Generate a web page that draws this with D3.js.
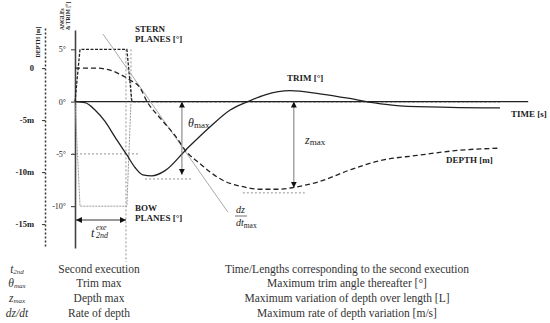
<!DOCTYPE html>
<html>
<head>
<meta charset="utf-8">
<script src="https://cdn.jsdelivr.net/npm/d3@7"></script>
<style>
  body { margin: 0; background: #fff; }
  text { font-family: "Liberation Serif", "DejaVu Serif", serif; fill: #222; }
  .lbl { font-weight: bold; font-size: 9px; }
  .tick text { font-size: 8px; fill: #222; }
  .tbl { font-size: 11.5px; fill: #333; }
</style>
</head>
<body>
<div id="chart"></div>
<script>
// Values: time in % of the run, trim / planes in degrees, depth in metres
const trimCurve = [[0,0],[2.2,-0.1],[4.4,-0.8],[6.6,-1.9],[8.8,-3.4],[11.4,-5.1],[13.2,-6.3],[14.9,-7.0],
  [16.9,-7.1],[19.8,-6.6],[24.4,-4.6],[29.7,-2.4],[34.1,-0.8],[38.5,0.1],[41.8,0.65],[47.3,1.05],
  [53.8,0.75],[60.4,0.3],[65.5,-0.1],[71.4,-0.4],[82.4,-0.55],[93.4,-0.6]];
const depthCurve = [[0,0],[4.4,0],[7.7,-0.2],[9.9,-0.6],[12.1,-1.15],[14.3,-1.9],[15.8,-3.2],[18.7,-4.8],
  [22.0,-6.5],[24.6,-8.1],[27.5,-9.2],[29.7,-10.0],[33.0,-10.9],[36.3,-11.35],[40.7,-11.65],[45.1,-11.65],
  [48.4,-11.45],[53.8,-10.9],[60.4,-9.8],[67.0,-8.9],[75.2,-8.4],[84.6,-7.9],[93.4,-7.7]];
const sternPlanes = [[0,0],[1.1,5],[11.4,5],[12.5,0],[93.4,0]];
const bowPlanes = [[0,0],[1.1,-10],[11.4,-10],[12.3,0]];
const rateLine = [[6.15,3.27],[33.6,-13.85]];   // tangent dz/dt, depth units

const angleTicks = [5, 0, -5, -10];
const depthTicks = [0, -5, -10, -15];
const depthTickLabels = ["0", "-5m", "-10m", "-15m"];

const tExe = 11.2;        // end of second execution
const tTrimMax = 23.5, trimMax = -7.0;
const tDepthMax = 48.1, depthMax = -11.5;

const legendSymbols = [["t", "2nd"], ["θ", "max"], ["z", "max"], ["dz/dt", ""]];
const legendNames = ["Second execution", "Trim max", "Depth max", "Rate of depth"];
const legendNotes = ["Time/Lengths corresponding to the second execution",
  "Maximum trim angle thereafter [°]",
  "Maximum variation of depth over length [L]",
  "Maximum rate of depth variation [m/s]"];

const width = 550, height = 323;

const svg = d3.select("#chart").append("svg")
  .attr("width", width).attr("height", height);

const x = d3.scaleLinear().domain([0, 100]).range([75, 530]);
const yA = d3.scaleLinear().domain([6.85, -14]).range([30, 248]);
const yD = d3.scaleLinear().domain([3.85, -17.3]).range([28, 248]);

// arrow head
svg.append("defs").append("marker")
  .attr("id", "arr")
  .attr("viewBox", "0 0 10 10")
  .attr("refX", 10).attr("refY", 5)
  .attr("markerWidth", 6).attr("markerHeight", 6)
  .attr("orient", "auto-start-reverse")
  .append("path").attr("d", "M0,0L10,5L0,10z").attr("fill", "#111");

// depth axis (dashed)
const depthAxis = svg.append("g")
  .attr("transform", "translate(45,0)")
  .call(d3.axisLeft(yD).tickValues(depthTicks).tickSize(3).tickSizeOuter(0).tickPadding(8)
    .tickFormat((d, i) => depthTickLabels[i]));
depthAxis.select(".domain").attr("stroke", "#333").attr("stroke-width", 1.5).attr("stroke-dasharray", "2,2");
depthAxis.selectAll(".tick line").attr("stroke", "#333");
depthAxis.selectAll(".tick text").style("font-weight", "bold").style("font-size", "8.5px");

// angle axis
const angleAxis = svg.append("g")
  .attr("transform", "translate(75,0)")
  .call(d3.axisLeft(yA).tickValues(angleTicks).tickSize(4).tickSizeOuter(0).tickPadding(5)
    .tickFormat(d => d + "°"));
angleAxis.select(".domain").attr("stroke", "#444").attr("stroke-width", 1.6);
angleAxis.selectAll(".tick line").attr("stroke", "#333");

// axis titles
svg.append("text").attr("class", "lbl")
  .attr("transform", "translate(40,42) rotate(-90)")
  .attr("text-anchor", "middle").style("font-size", "6px")
  .text("DEPTH [m]");
svg.append("text").attr("class", "lbl")
  .attr("transform", "translate(64,30) rotate(-90)")
  .style("font-size", "5.5px").text("ANGLEs");
svg.append("text").attr("class", "lbl")
  .attr("transform", "translate(70,30) rotate(-90)")
  .style("font-size", "5.5px").text("& TRIM [°]");

// time axis
svg.append("line")
  .attr("x1", x(0)).attr("x2", x(99.6))
  .attr("y1", yA(0)).attr("y2", yA(0))
  .attr("stroke", "#222").attr("stroke-width", 1.2);

// guide lines
const guide = (x1, x2, y1, y2) => svg.append("line")
  .attr("x1", x1).attr("x2", x2).attr("y1", y1).attr("y2", y2)
  .attr("stroke", "#888").attr("stroke-width", 0.9).attr("stroke-dasharray", "2,2");
guide(x(tExe), x(tExe), yA(5), 262);
guide(x(12.3), x(12.3), yA(5), yA(0));
guide(x(0) - 3, x(14.3), yA(-5), yA(-5));
guide(x(15.4), x(25.7), yA(-7.4), yA(-7.4));
guide(x(36.9), x(50.5), yD(-12.0), yD(-12.0));

// bow planes
svg.append("path").datum(bowPlanes)
  .attr("fill", "none").attr("stroke", "#999").attr("stroke-width", 1)
  .attr("stroke-dasharray", "2,1")
  .attr("d", d3.line().x(d => x(d[0])).y(d => yA(d[1])));

// stern planes
svg.append("path").datum(sternPlanes)
  .attr("fill", "none").attr("stroke", "#222").attr("stroke-width", 1.3)
  .attr("stroke-dasharray", "3,1.5")
  .attr("d", d3.line().x(d => x(d[0])).y(d => yA(d[1])));

// tangent of depth rate
svg.append("path").datum(rateLine)
  .attr("fill", "none").attr("stroke", "#aaa").attr("stroke-width", 1)
  .attr("d", d3.line().x(d => x(d[0])).y(d => yD(d[1])));

// depth
svg.append("path").datum(depthCurve)
  .attr("fill", "none").attr("stroke", "#222").attr("stroke-width", 1.3)
  .attr("stroke-dasharray", "5,3")
  .attr("d", d3.line().curve(d3.curveMonotoneX).x(d => x(d[0])).y(d => yD(d[1])));

// trim
svg.append("path").datum(trimCurve)
  .attr("fill", "none").attr("stroke", "#222").attr("stroke-width", 1.3)
  .attr("d", d3.line().curve(d3.curveMonotoneX).x(d => x(d[0])).y(d => yA(d[1])));

// arrows
const arrow = (x1, y1, x2, y2, col) => svg.append("line")
  .attr("x1", x1).attr("y1", y1).attr("x2", x2).attr("y2", y2)
  .attr("stroke", col).attr("stroke-width", 1)
  .attr("marker-start", "url(#arr)").attr("marker-end", "url(#arr)");
arrow(x(tTrimMax), yA(0), x(tTrimMax), yA(trimMax), "#777");
arrow(x(tDepthMax), yA(0), x(tDepthMax), yD(depthMax), "#777");
arrow(x(0.2), 220, x(tExe), 220, "#333");

// curve labels
const lbl = (tx, ty, s) => svg.append("text").attr("class", "lbl").attr("x", tx).attr("y", ty).text(s);
lbl(135, 32, "STERN");
lbl(135, 42, "PLANES [°]");
lbl(135, 211, "BOW");
lbl(135, 221, "PLANES [°]");
lbl(287, 81, "TRIM [°]");
lbl(511, 117, "TIME [s]");
lbl(446, 163, "DEPTH [m]");

// math labels
const theta = svg.append("text").attr("x", 188).attr("y", 127);
theta.append("tspan").style("font-style", "italic").style("font-size", "12px").text("θ");
theta.append("tspan").style("font-size", "9px").attr("dy", 1).text("max");

const zl = svg.append("text").attr("x", 305).attr("y", 144);
zl.append("tspan").style("font-style", "italic").style("font-size", "12px").text("z");
zl.append("tspan").style("font-size", "9px").attr("dy", 1).text("max");

svg.append("text").attr("x", 236).attr("y", 213)
  .style("font-style", "italic").style("font-size", "10px").text("dz");
svg.append("line").attr("x1", 235).attr("x2", 247).attr("y1", 216).attr("y2", 216)
  .attr("stroke", "#333").attr("stroke-width", 0.7);
const dt = svg.append("text").attr("x", 236).attr("y", 226);
dt.append("tspan").style("font-style", "italic").style("font-size", "10px").text("dt");
dt.append("tspan").style("font-size", "7.5px").attr("dy", 2).text("max");

svg.append("text").attr("x", 91).attr("y", 237)
  .style("font-style", "italic").style("font-size", "12px").text("t");
svg.append("text").attr("x", 96).attr("y", 230)
  .style("font-style", "italic").style("font-size", "8px").text("exe");
svg.append("text").attr("x", 96).attr("y", 237.5)
  .style("font-style", "italic").style("font-size", "8px").text("2nd");

// legend table
const rowY = [273, 287, 302, 317];
legendSymbols.forEach((s, i) => {
  const t = svg.append("text").attr("class", "tbl")
    .attr("x", 17).attr("y", rowY[i]).attr("text-anchor", "middle")
    .style("font-style", "italic");
  t.append("tspan").text(s[0]);
  if (s[1]) t.append("tspan").style("font-size", "7px").attr("dy", 1).text(s[1]);
  svg.append("text").attr("class", "tbl")
    .attr("x", 99).attr("y", rowY[i]).attr("text-anchor", "middle").text(legendNames[i]);
  svg.append("text").attr("class", "tbl")
    .attr("x", 347).attr("y", rowY[i]).attr("text-anchor", "middle").text(legendNotes[i]);
});
</script>
</body>
</html>
